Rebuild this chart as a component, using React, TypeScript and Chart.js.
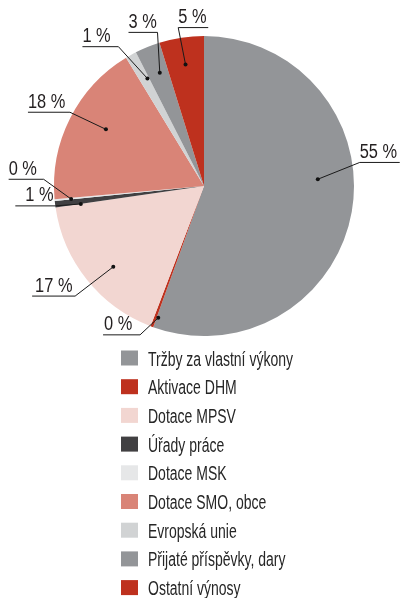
import React, { useEffect, useRef } from 'react';
import { Chart, registerables } from 'chart.js';

Chart.register(...registerables);

const categories = [
  'Tržby za vlastní výkony',
  'Aktivace DHM',
  'Dotace MPSV',
  'Úřady práce',
  'Dotace MSK',
  'Dotace SMO, obce',
  'Evropská unie',
  'Přijaté příspěvky, dary',
  'Ostatní výnosy',
];
const values = [55.5, 0.3, 16.9, 0.7, 0.2, 17.7, 1.2, 2.7, 4.8];
const percentLabels = ['55 %', '0 %', '17 %', '1 %', '0 %', '18 %', '1 %', '3 %', '5 %'];
const colors = ['#939598', '#be311e', '#f2d6d1', '#414042', '#e6e7e8', '#d98477', '#d1d3d4', '#939598', '#be311e'];

// leader-line layout per slice: dot/elbow angle offsets from slice middle (deg), radius fractions, tail length & side, text offset
const labelLayout = [
  { dotA: -13.3, dotR: 0.76, elbA: -18.5, elbR: 1.05, tail: 40, side: 1, tx: 0 },
  { dotA: -1.2, dotR: 0.93, elbA: 2.9, elbR: 1.08, tail: 37, side: -1, tx: 1 },
  { dotA: -3, dotR: 0.81, elbA: -1.8, elbR: 1.13, tail: 43, side: -1, tx: 3 },
  { dotA: -1.3, dotR: 0.83, elbA: -0.6, elbR: 1.0, tail: 40, side: -1, tx: 10 },
  { dotA: -0.2, dotR: 0.89, elbA: 7.8, elbR: 1.07, tail: 35, side: -1, tx: 0 },
  { dotA: 3.2, dotR: 0.755, elbA: 2, elbR: 1.02, tail: 42, side: -1, tx: 0 },
  { dotA: 1.4, dotR: 0.81, elbA: -2.4, elbR: 1.09, tail: 36, side: -1, tx: 0 },
  { dotA: 0.8, dotR: 0.81, elbA: 5.3, elbR: 1.07, tail: 29, side: -1, tx: 0 },
  { dotA: 0, dotR: 0.82, elbA: -0.6, elbR: 1.07, tail: 30, side: 1, tx: 0 },
];

const FONT = '"Liberation Sans", Arial, sans-serif';

function narrowText(ctx: any, text: string, x: number, y: number, size: number, squeeze: number) {
  ctx.save();
  ctx.font = `${size}px ${FONT}`;
  ctx.translate(x, y);
  ctx.scale(squeeze, 1);
  ctx.fillText(text, 0, 0);
  ctx.restore();
}

const leaderPlugin = {
  id: 'leaders',
  afterDatasetsDraw(chart: any) {
    const ctx = chart.ctx;
    const meta = chart.getDatasetMeta(0);
    ctx.save();
    meta.data.forEach((arc: any, i: number) => {
      const L = labelLayout[i];
      const mid = (arc.startAngle + arc.endAngle) / 2;
      const r = arc.outerRadius;
      const da = mid + (L.dotA * Math.PI) / 180;
      const ea = mid + (L.elbA * Math.PI) / 180;
      const dx = arc.x + Math.cos(da) * r * L.dotR;
      const dy = arc.y + Math.sin(da) * r * L.dotR;
      const ex = arc.x + Math.cos(ea) * r * L.elbR;
      const ey = arc.y + Math.sin(ea) * r * L.elbR;
      const tx = ex + L.side * L.tail;
      ctx.strokeStyle = '#1a1a1a';
      ctx.lineWidth = 1;
      ctx.beginPath();
      ctx.moveTo(dx, dy);
      ctx.lineTo(ex, ey);
      ctx.lineTo(tx, ey);
      ctx.stroke();
      ctx.fillStyle = '#111';
      ctx.beginPath();
      ctx.arc(dx, dy, 2, 0, Math.PI * 2);
      ctx.fill();
      ctx.fillStyle = '#231f20';
      ctx.textAlign = 'left';
      ctx.textBaseline = 'alphabetic';
      narrowText(ctx, percentLabels[i], Math.min(ex, tx) + L.tx, ey - 4.5, 20.5, 0.8);
    });
    ctx.restore();
  },
};

const legendPlugin = {
  id: 'listLegend',
  afterDraw(chart: any) {
    const ctx = chart.ctx;
    const top = chart.chartArea.bottom + 22;
    const step = 28.7;
    ctx.save();
    ctx.textBaseline = 'alphabetic';
    ctx.textAlign = 'left';
    categories.forEach((c, i) => {
      const cy = top + i * step;
      ctx.fillStyle = colors[i];
      ctx.fillRect(121, cy - 7.5, 17, 15);
      ctx.fillStyle = '#262626';
      narrowText(ctx, c, 148, cy + 7.5, 20, 0.7);
    });
    ctx.restore();
  },
};

export default function App() {
  const ref = useRef<HTMLCanvasElement>(null);
  useEffect(() => {
    if (!ref.current) return;
    const chart = new Chart(ref.current, {
      type: 'pie',
      data: {
        labels: categories,
        datasets: [{ data: values, backgroundColor: colors, borderWidth: 0 }],
      },
      options: {
        animation: false,
        responsive: false,
        maintainAspectRatio: false,
        layout: { padding: { left: 54, right: 46, top: 36, bottom: 262 } },
        plugins: { legend: { display: false }, tooltip: { enabled: false } },
      },
      plugins: [leaderPlugin, legendPlugin],
    });
    return () => chart.destroy();
  }, []);
  return (
    <div style={{ position: 'fixed', left: 0, top: 0, width: 400, height: 598, background: '#fff' }}>
      <canvas ref={ref} width={400} height={598} style={{ width: 400, height: 598 }} />
    </div>
  );
}
